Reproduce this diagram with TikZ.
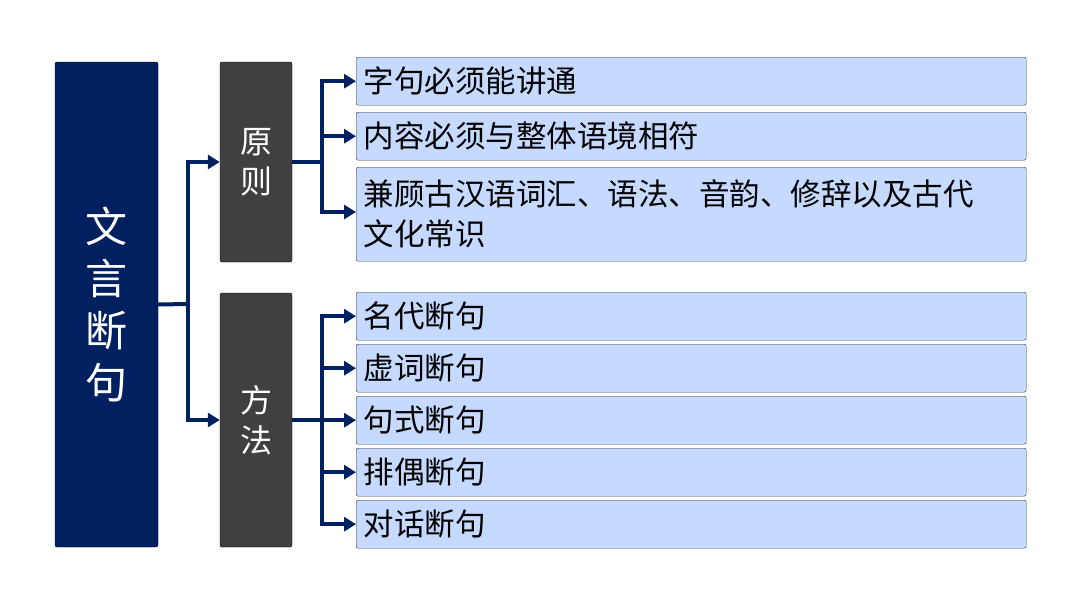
\documentclass[tikz,border=0pt]{standalone}
\usepackage{fontspec}
\newfontfamily\cjk{Noto Sans CJK SC}
\usetikzlibrary{positioning,arrows.meta}
\definecolor{navy}{RGB}{0,32,96}
\definecolor{darkgrey}{RGB}{64,64,64}
\definecolor{paleblue}{RGB}{198,217,255}
\tikzset{
  mainbox/.style={draw=black, fill=navy, rounded corners=2pt, text=white, font=\cjk\fontsize{42}{52}\selectfont, align=center},
  catbox/.style={draw=black, fill=darkgrey, rounded corners=2pt, text=white, font=\cjk\fontsize{32}{40}\selectfont, align=center, minimum width=72pt},
  itembox/.style={draw=black!80, fill=paleblue, rounded corners=2pt, anchor=north west, minimum width=670pt, text width=655pt, align=left, font=\cjk\fontsize{30.5}{40}\selectfont, inner xsep=7pt, inner ysep=0pt},
  conn/.style={draw=navy, line width=4pt, -{Triangle[length=12pt,width=14pt]}}
}
\begin{document}
\begin{tikzpicture}[x=1pt,y=-1pt]
\useasboundingbox (0,0) rectangle (1080,608);
\node[mainbox, minimum width=103pt, minimum height=485pt] (wenyan) at (106.5,304.5) {文\\言\\断\\句};
\node[catbox, minimum height=200pt] (yuanze) at (256,162) {原\\则};
\node[catbox, minimum height=254pt] (fangfa) at (256,420) {方\\法};
% principles
\node[itembox, minimum height=48pt] (p1) at (356,57) {字句必须能讲通};
\node[itembox, minimum height=48pt] (p2) at (356,112) {内容必须与整体语境相符};
\node[itembox, minimum height=94pt] (p3) at (356,167) {兼顾古汉语词汇、语法、音韵、修辞以及古代\\文化常识};
% methods
\node[itembox, minimum height=48pt] (m1) at (356,292) {名代断句};
\node[itembox, minimum height=48pt] (m2) at (356,344) {虚词断句};
\node[itembox, minimum height=48pt] (m3) at (356,396) {句式断句};
\node[itembox, minimum height=48pt] (m4) at (356,448) {排偶断句};
\node[itembox, minimum height=48pt] (m5) at (356,500) {对话断句};
% connectors
\coordinate (tA) at (188,304);
\draw[navy, line width=4pt] (wenyan.east) -- (tA);
\draw[conn] (tA) |- (yuanze.west);
\draw[conn] (tA) |- (fangfa.west);
\coordinate (tB) at (322,162);
\draw[navy, line width=4pt] (yuanze.east) -- (tB);
\foreach \n in {p1,p2} \draw[conn] (tB) |- (\n.west);
\draw[conn] (tB) |- (356,212);
\coordinate (tC) at (322,420);
\draw[navy, line width=4pt] (fangfa.east) -- (tC);
\foreach \n in {m1,m2,m3,m4,m5} \draw[conn] (tC) |- (\n.west);
\end{tikzpicture}
\end{document}
